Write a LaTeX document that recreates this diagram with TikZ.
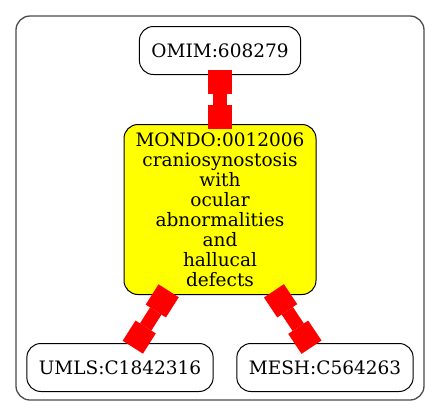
\documentclass[tikz,border=0pt]{standalone}
\usepackage{fontspec}
\setmainfont{DejaVu Serif}
\usepackage{tikz}
\usetikzlibrary{arrows.meta, positioning, backgrounds}
\definecolor{myred}{rgb}{1, 0, 0}
\definecolor{myyellow}{rgb}{1, 1, 0}
\definecolor{mygray}{rgb}{0.3, 0.3, 0.3}
\tikzstyle{idnode} = [rectangle, rounded corners=14pt, minimum height=48pt, inner xsep=12pt, text centered, draw=black, line width=1pt, fill=white]
\tikzstyle{mondonode} = [rectangle, rounded corners=14pt, minimum width=192pt, minimum height=170pt, inner sep=0pt, align=center, draw=black, line width=1pt, fill=myyellow]
\tikzstyle{cluster} = [rounded corners=14pt, draw=mygray, line width=1.3pt]
\tikzstyle{link} = [myred, line width=13.5pt, {Square[length=24pt,width=24pt,line width=0pt]}-{Square[length=24pt,width=24pt,line width=0pt]}, shorten <=-5pt, shorten >=-5pt]

\begin{document}
\begin{tikzpicture}[x=1pt, y=-1pt, font=\fontsize{18.5}{20}\selectfont]
    \useasboundingbox (0,0) rectangle (440,416);
    \node (omim) [idnode] at (220,50.5) {OMIM:608279};
    \node (mondo) [mondonode, below=49pt of omim] {MONDO:0012006\\craniosynostosis\\with\\ocular\\abnormalities\\and\\hallucal\\defects};
    \node (umls) [idnode, below=48pt of mondo, xshift=-100pt] {UMLS:C1842316};
    \node (mesh) [idnode, below=48pt of mondo, xshift=105pt] {MESH:C564263};
    \begin{scope}[on background layer]
        \draw[cluster] (16,16) rectangle (424,400);
    \end{scope}
    \draw[link] (omim) -- (mondo);
    \draw[link] (mondo) -- (umls);
    \draw[link] (mondo) -- (mesh);
\end{tikzpicture}
\end{document}
